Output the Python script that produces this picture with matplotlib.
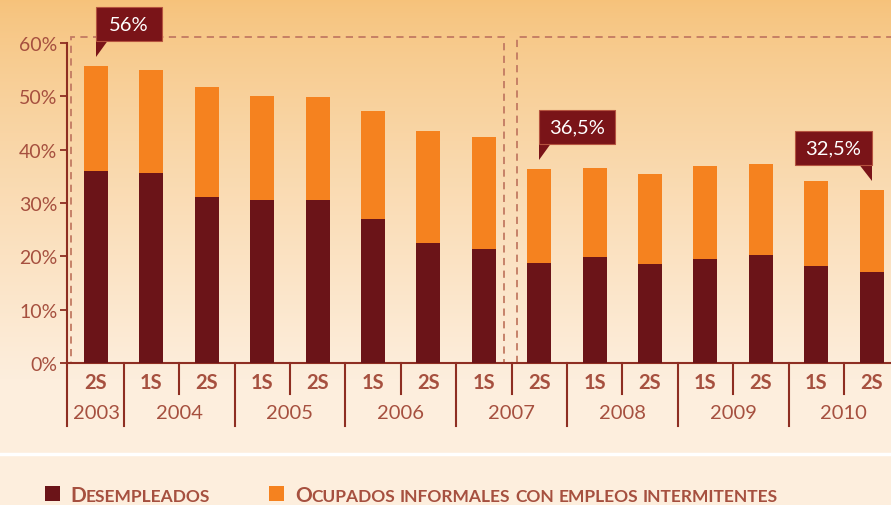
import numpy as np
import matplotlib.pyplot as plt
from matplotlib.patches import Polygon, Rectangle

# datos (% de la poblacion)
semestres = ['2S', '1S', '2S', '1S', '2S', '1S', '2S', '1S', '2S', '1S', '2S', '1S', '2S', '1S', '2S']
anios = ['2003', '2004', '2005', '2006', '2007', '2008', '2009', '2010']
bars_por_anio = [1, 2, 2, 2, 2, 2, 2, 2]
desempleados = np.array([36.0, 35.6, 31.1, 30.6, 30.6, 27.0, 22.5, 21.4, 18.8, 19.9, 18.6, 19.5, 20.3, 18.2, 17.1])
total = np.array([55.7, 55.0, 51.8, 50.0, 49.9, 47.3, 43.5, 42.4, 36.4, 36.6, 35.5, 37.0, 37.3, 34.1, 32.5])
informales = total - desempleados
globos = [(0, '56%', 'der'), (8, '36,5%', 'der'), (14, '32,5%', 'izq')]

oscuro = '#6b1418'
naranja = '#f5821f'
texto_c = '#a6503f'
eje_c = '#8e2e22'
punteado = '#c27a62'

plt.rcParams['font.family'] = ['Lato', 'DejaVu Sans']

W, H = 891, 506
fig = plt.figure(figsize=(W / 100, H / 100), dpi=100)

# fondo degradado
bg = fig.add_axes([0, 0, 1, 1], zorder=-5)
top = np.array([246, 194, 122]) / 255
bot = np.array([253, 238, 221]) / 255
yy = np.clip(np.arange(H) / 380.0, 0, 1) ** 0.8
grad = top[None, :] * (1 - yy[:, None]) + bot[None, :] * yy[:, None]
bg.imshow(grad[:, None, :], aspect='auto', extent=[0, W, H, 0])
bg.axhline(455, color='white', lw=2.5)
bg.set_xlim(0, W)
bg.set_ylim(H, 0)
bg.axis('off')

# ejes
x0_px, step_px = 96.0, 55.4
ax = fig.add_axes([67 / W, (H - 364) / H, (W - 67) / W, 320 / H])
ax.patch.set_alpha(0)
ax.set_xlim((67 - x0_px) / step_px, (W - x0_px) / step_px)
ax.set_ylim(0, 60)
for s in ['top', 'right']:
    ax.spines[s].set_visible(False)
for s in ['left', 'bottom']:
    ax.spines[s].set_color(eje_c)
    ax.spines[s].set_linewidth(1.5)
ax.set_yticks(range(0, 61, 10))
ax.set_yticklabels([f'{v}%' for v in range(0, 61, 10)])
ax.tick_params(axis='y', direction='out', length=5, width=1.3, color=eje_c,
               labelcolor=texto_c, labelsize=14, pad=2)
ax.set_xticks([])

x = np.arange(len(semestres))
ax.bar(x, desempleados, 0.43, color=oscuro, zorder=3)
ax.bar(x, informales, 0.43, bottom=desempleados, color=naranja, zorder=3)

# recuadros punteados
xl = ax.get_xlim()
ax.add_patch(Rectangle((-0.45, 0), 7.81, 61.1, fill=False, ls=(0, (4, 3)),
                       ec=punteado, lw=1.3, clip_on=False, zorder=2))
ax.plot([7.6, 7.6, xl[1]], [0, 61.1, 61.1], ls=(0, (4, 3)), color=punteado,
        lw=1.3, clip_on=False, zorder=2)

# separadores y etiquetas del eje x
corto, largo = -5.8, -11.8
lim = np.cumsum(bars_por_anio)
ax.plot([xl[0], xl[0]], [0, largo], color=eje_c, lw=1.5, clip_on=False)
for b in range(1, len(semestres)):
    yb = largo if b in lim else corto
    ax.plot([b - 0.5, b - 0.5], [0, yb], color=eje_c, lw=1.5, clip_on=False)
for i, s in enumerate(semestres):
    ax.text(i, -3.6, s, ha='center', va='center', color=texto_c,
            fontsize=14.5, fontweight='bold')
ini = 0
for a, n in zip(anios, bars_por_anio):
    ax.text(ini + (n - 1) / 2, -9.3, a, ha='center', va='center',
            color=texto_c, fontsize=14.5)
    ini += n

# globos
for i, lab, lado in globos:
    tip = total[i] + 1.7
    base = tip + 3.0
    w = 0.9 + 0.095 * len(lab)
    h = 6.3
    d = 1 if lado == 'der' else -1
    x0 = i if lado == 'der' else i - w
    ax.add_patch(Polygon([(i, tip), (i, base + 0.3), (i + d * 0.24, base + 0.3)],
                         closed=True, fc='#7a1418', ec='none', clip_on=False, zorder=5))
    ax.add_patch(Rectangle((x0, base), w, h, fc='#7a1418', ec='#b5533f', lw=0.8,
                           clip_on=False, zorder=5))
    ax.text(x0 + w / 2, base + h / 2, lab, ha='center', va='center',
            color='white', fontsize=14.5, zorder=6)

# leyenda (versalitas)
r = fig.canvas.get_renderer()
y_ley = (H - 502) / H


def versalitas(xp, texto):
    xf = xp / W
    for palabra in texto.split(' '):
        if palabra[0].isupper():
            partes = [(palabra[0], 15), (palabra[1:].upper(), 12.5)]
        else:
            partes = [(palabra.upper(), 12.5)]
        for parte, fs in partes:
            t = fig.text(xf, y_ley, parte, fontsize=fs, fontweight='bold',
                         color=texto_c, va='baseline')
            xf += t.get_window_extent(r).width / W
        xf += 4.5 / W


fig.patches.append(Rectangle((45 / W, y_ley), 15 / W, 15 / H, fc=oscuro,
                             transform=fig.transFigure, figure=fig))
fig.patches.append(Rectangle((269 / W, y_ley), 15 / W, 15 / H, fc=naranja,
                             transform=fig.transFigure, figure=fig))
versalitas(70, 'Desempleados')
versalitas(295, 'Ocupados informales con empleos intermitentes')

fig.savefig('out.png', dpi=100)
